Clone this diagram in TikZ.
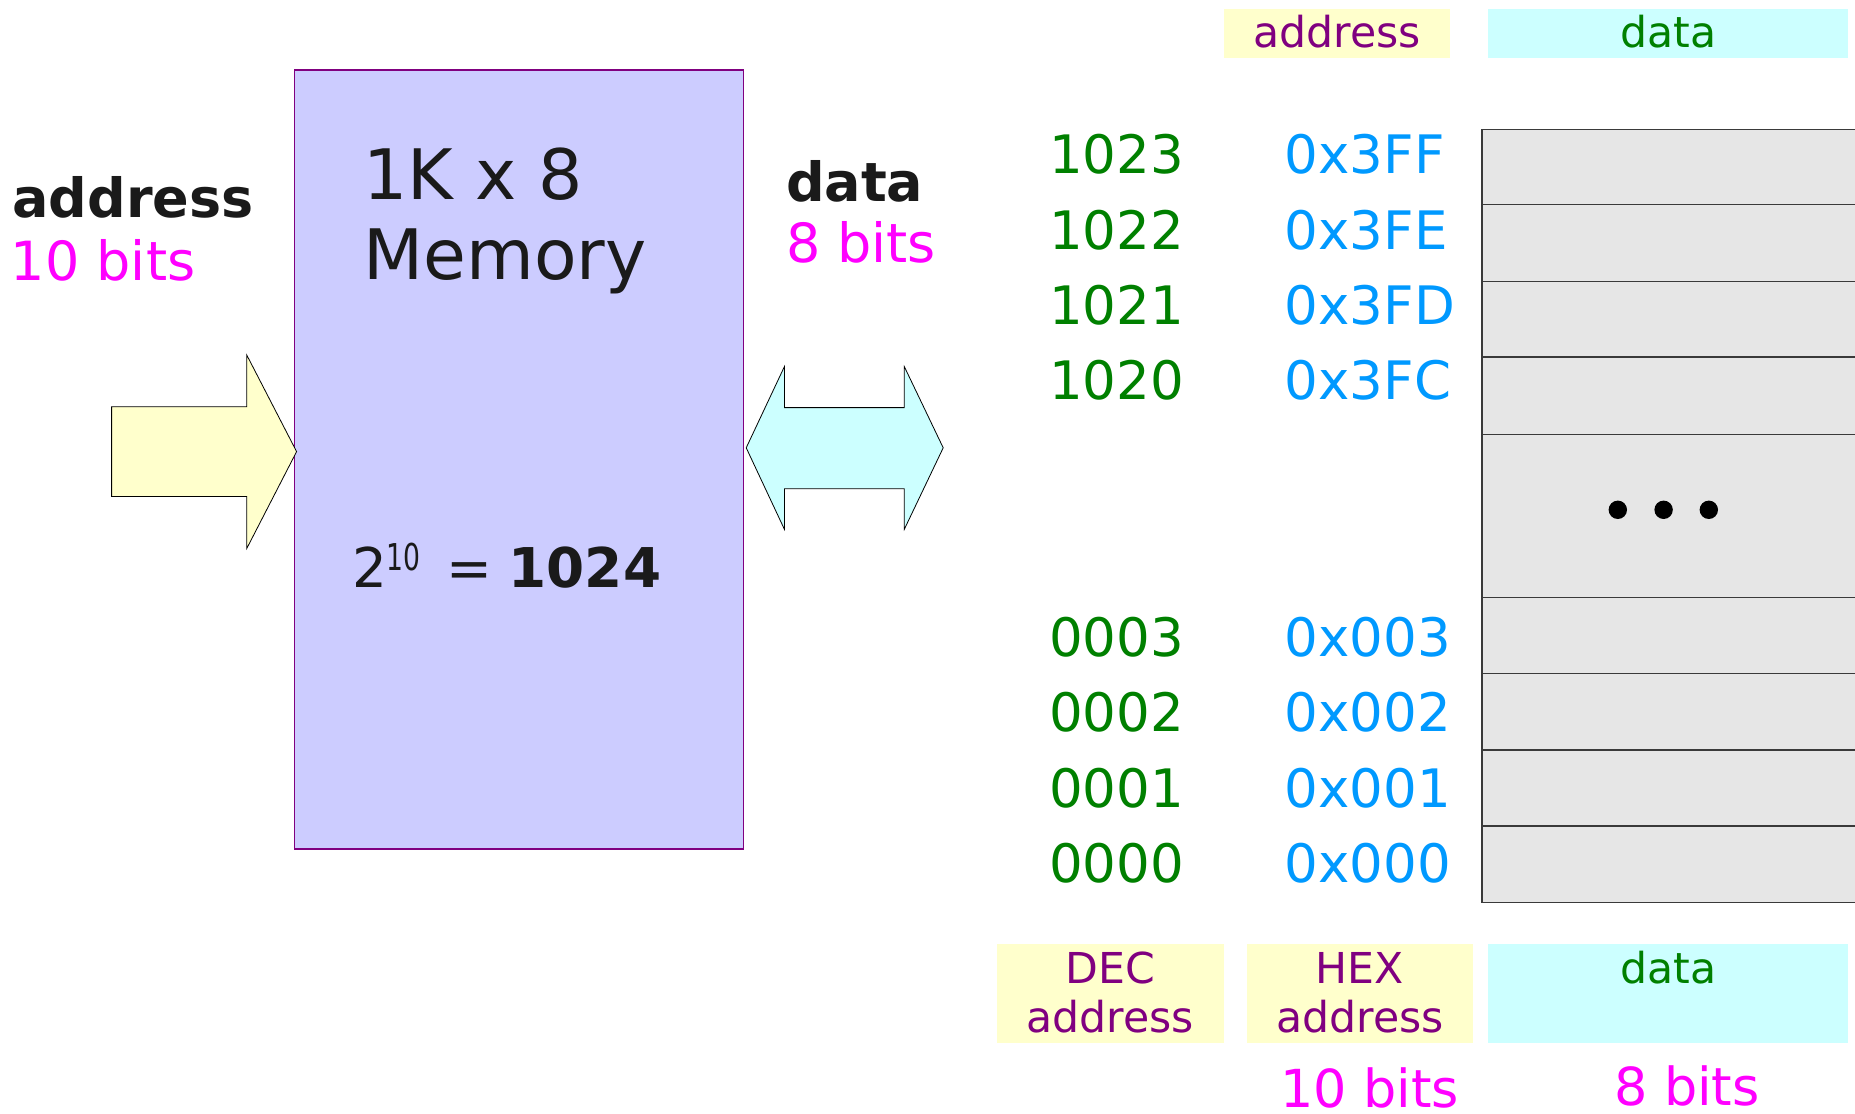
\documentclass[tikz,border=0pt]{standalone}
\usepackage{fontspec}
\setmainfont{DejaVu Sans}
\definecolor{ink}{HTML}{1A1A1A}
\definecolor{lavender}{HTML}{CCCCFF}
\definecolor{paleyellow}{HTML}{FFFFCC}
\definecolor{palecyan}{HTML}{CCFFFF}
\definecolor{cellgray}{HTML}{E6E6E6}
\definecolor{decgreen}{HTML}{008000}
\definecolor{hexblue}{HTML}{0099FF}
\definecolor{bitsmag}{HTML}{FF00FF}
\definecolor{labpurple}{HTML}{800080}
\definecolor{gridline}{HTML}{3A3A3A}

\begin{document}
\begin{tikzpicture}[x=0.5pt,y=-0.5pt,
  txt/.style={inner sep=0pt,outer sep=0pt,anchor=base west},
  ctxt/.style={inner sep=0pt,outer sep=0pt,anchor=base},
  biglab/.style={txt,font=\fontsize{27pt}{31pt}\selectfont},
  bigbold/.style={txt,text=ink,font=\fontsize{27pt}{31pt}\selectfont\bfseries},
  memtxt/.style={txt,text=ink,font=\fontsize{34.8pt}{40pt}\selectfont},
  cell/.style={txt,font=\fontsize{26.5pt}{31pt}\selectfont},
  dec/.style={cell,text=decgreen},
  hex/.style={cell,text=hexblue},
  tagtxt/.style={ctxt,font=\fontsize{21.3pt}{24.5pt}\selectfont},
  bits/.style={ctxt,text=bitsmag,text depth=0pt,font=\fontsize{26.2pt}{31pt}\selectfont},
  arrowshape/.style={draw=black,line width=0.4pt,line join=miter},
  rowline/.style={draw=gridline,line width=0.7pt},
]
\useasboundingbox (0,0) rectangle (1855,1113);

% memory block
\node (mem) [draw=labpurple,fill=lavender,line width=0.7pt,
  minimum width=224.5pt,minimum height=389.5pt,inner sep=0pt]
  at (519.1,459.5) {};
\node (memname) [memtxt] at (363.5,199) {1K x 8};
\node (memword) [memtxt] at (363.5,279) {Memory};
\node (memsize) [txt,text=ink,font=\fontsize{27.4pt}{32pt}\selectfont] at (352,587)
  {2\raisebox{8.5pt}{\fontsize{18.5pt}{20pt}\selectfont\scalebox{0.72}[1]{10}}\hspace{13pt}=\hspace{8pt}\textbf{1024}};

% address bus (input) and data bus (bidirectional)
\path[arrowshape,fill=paleyellow]
  (111.6,406.8) -- (246.8,406.8) -- (246.8,355.1) -- (296.6,451.6)
  -- (246.8,548.4) -- (246.8,496.4) -- (111.6,496.4) -- cycle;
\path[arrowshape,fill=palecyan]
  (746.2,447.8) -- (784.4,366.6) -- (784.4,407.6) -- (904.3,407.6)
  -- (904.3,366.6) -- (943.2,447.8) -- (904.3,529.3) -- (904.3,488.7)
  -- (784.4,488.7) -- (784.4,529.3) -- cycle;

\node (addrlab) [bigbold] at (12.4,217) {address};
\node (addrbits) [biglab,text=bitsmag] at (10.9,280) {10 bits};
\node (datalab) [bigbold] at (786,201) {data};
\node (databits) [biglab,text=bitsmag] at (786,262) {8 bits};

% column headers
\fill[paleyellow] (1223.9,8.8) rectangle (1450.4,58.2);
\fill[palecyan] (1488.4,8.8) rectangle (1848.3,58.2);
\node (hdaddr) [tagtxt,text=labpurple] at (1337.2,47.8) {address};
\node (hddata) [tagtxt,text=decgreen] at (1668.4,47.8) {data};

% memory cells
\fill[cellgray] (1482,129.4) rectangle (1860,902.6);
\draw[rowline] (1482,129.4) -- (1482,902.6);
\foreach \yy in {129.4,204.7,281.3,357,434.4,597.4,673.5,750,825.8,902.6}
  \draw[rowline] (1482,\yy) -- (1860,\yy);
\foreach \xx in {1617.8,1663.6,1708.8}
  \fill[black] (\xx,509.8) circle[radius=4.6pt];

% address values
\node (d1023) [dec] at (1049,173) {1023};
\node (d1022) [dec] at (1049,249) {1022};
\node (d1021) [dec] at (1049,324.5) {1021};
\node (d1020) [dec] at (1049,399) {1020};
\node (d0003) [dec] at (1049,656) {0003};
\node (d0002) [dec] at (1049,731.3) {0002};
\node (d0001) [dec] at (1049,807.5) {0001};
\node (d0000) [dec] at (1049,882) {0000};
\node (h3ff) [hex] at (1284.8,173) {0x3FF};
\node (h3fe) [hex] at (1284.8,249) {0x3FE};
\node (h3fd) [hex] at (1284.8,324.5) {0x3FD};
\node (h3fc) [hex] at (1284.8,399) {0x3FC};
\node (h003) [hex] at (1284.8,656) {0x003};
\node (h002) [hex] at (1284.8,731.3) {0x002};
\node (h001) [hex] at (1284.8,807.5) {0x001};
\node (h000) [hex] at (1284.8,882) {0x000};

% column footers
\fill[paleyellow] (996.7,944) rectangle (1223.9,1042.6);
\fill[paleyellow] (1246.7,944) rectangle (1473.3,1042.6);
\fill[palecyan] (1488.4,944) rectangle (1848.3,1042.6);
\node (ftdec) [tagtxt,text=labpurple] at (1110.3,983.7) {DEC};
\node (ftdecb) [tagtxt,text=labpurple] at (1110.3,1032) {address};
\node (fthex) [tagtxt,text=labpurple] at (1360,983.7) {HEX};
\node (fthexb) [tagtxt,text=labpurple] at (1360,1032) {address};
\node (ftdata) [tagtxt,text=decgreen] at (1668.4,983.7) {data};
\node (ftabits) [bits] at (1369.5,1107) {10 bits};
\node (ftdbits) [bits] at (1687,1105) {8 bits};
\end{tikzpicture}
\end{document}
